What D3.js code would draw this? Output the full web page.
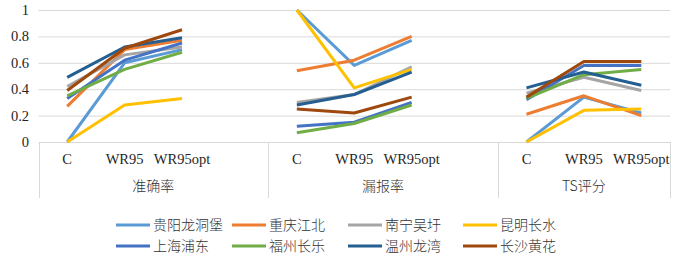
<!DOCTYPE html>
<html>
<head>
<meta charset="utf-8">
<script src="https://cdn.jsdelivr.net/npm/d3@7"></script>
<style>
  body { margin: 0; background: #fff; }
  svg { display: block; }
  .num { font-family: "Liberation Serif", "Times New Roman", serif; font-size: 14.5px; fill: #262626; }
  .cjk { font-family: "Noto Sans CJK SC", sans-serif; font-size: 14px; font-weight: 300; fill: #333; }
</style>
</head>
<body>
<svg id="chart" width="674" height="259"></svg>
<script>
/* ======================= DATA ======================= */
const groups = ["准确率", "漏报率", "TS评分"];
const categories = ["C", "WR95", "WR95opt"];
const yTicks = [0, 0.2, 0.4, 0.6, 0.8, 1];

const seriesNames = ["贵阳龙洞堡", "重庆江北", "南宁吴圩", "昆明长水",
                     "上海浦东", "福州长乐", "温州龙湾", "长沙黄花"];
const seriesColors = ["#5B9BD5", "#ED7D31", "#A5A5A5", "#FFC000",
                      "#4472C4", "#70AD47", "#255E91", "#9E480E"];

// values in order: 准确率 C/WR95/WR95opt, 漏报率 ..., TS评分 ...
const guiyang   = [0.00, 0.60, 0.70, 1.00, 0.58, 0.77, 0.00, 0.34, 0.22];
const chongqing = [0.27, 0.70, 0.77, 0.54, 0.62, 0.80, 0.21, 0.35, 0.20];
const nanning   = [0.42, 0.66, 0.72, 0.30, 0.36, 0.57, 0.37, 0.49, 0.39];
const kunming   = [0.00, 0.28, 0.33, 1.00, 0.41, 0.55, 0.00, 0.24, 0.25];
const shanghai  = [0.33, 0.62, 0.75, 0.12, 0.15, 0.30, 0.32, 0.58, 0.58];
const fuzhou    = [0.35, 0.55, 0.68, 0.07, 0.14, 0.28, 0.33, 0.51, 0.55];
const wenzhou   = [0.49, 0.72, 0.79, 0.28, 0.36, 0.53, 0.41, 0.53, 0.43];
const changsha  = [0.39, 0.71, 0.85, 0.25, 0.22, 0.34, 0.34, 0.61, 0.61];

const seriesValues = [guiyang, chongqing, nanning, kunming,
                      shanghai, fuzhou, wenzhou, changsha];

/* ====================== LAYOUT ====================== */
const svg = d3.select("#chart");
const plotLeft = 38.5, plotRight = 670, plotTop = 10, plotBottom = 142;
const axisBottom = 198;
const gridColor = "#d9d9d9";

// slot keys: each group gets its categories, followed by an empty slot (not after the last)
let slots = [];
groups.forEach((g, gi) => {
    categories.forEach(c => slots.push(g + "|" + c));
    if (gi < groups.length - 1) slots.push("gap" + gi);
});

const x = d3.scaleBand().domain(slots).range([plotLeft, plotRight]).padding(0);
const y = d3.scaleLinear().domain([0, 1]).range([plotBottom, plotTop]);

/* ===================== GRID / AXES ===================== */
svg.append("g")
   .selectAll("line")
   .data(yTicks)
   .join("line")
   .attr("x1", plotLeft).attr("x2", plotRight)
   .attr("y1", d => y(d) + 0.5).attr("y2", d => y(d) + 0.5)
   .attr("stroke", gridColor).attr("stroke-width", 1);

svg.append("g")
   .selectAll("text")
   .data(yTicks)
   .join("text")
   .attr("class", "num")
   .attr("x", 29)
   .attr("y", d => y(d))
   .attr("dy", "0.35em")
   .attr("text-anchor", "end")
   .text(d => d);

// group separators on the category axis
let sepX = groups.map(g => x(g + "|" + categories[0]));
sepX.push(plotRight);
svg.append("g")
   .selectAll("line")
   .data(sepX)
   .join("line")
   .attr("x1", d => Math.round(d) + 0.5).attr("x2", d => Math.round(d) + 0.5)
   .attr("y1", plotBottom).attr("y2", axisBottom)
   .attr("stroke", gridColor).attr("stroke-width", 1);

// category labels
let catLabels = [];
groups.forEach(g => categories.forEach(c => catLabels.push({ key: g + "|" + c, text: c })));
svg.append("g")
   .selectAll("text")
   .data(catLabels)
   .join("text")
   .attr("class", "num")
   .attr("x", d => x(d.key) + x.bandwidth() / 2)
   .attr("y", 164)
   .attr("text-anchor", "middle")
   .text(d => d.text);

// group labels
svg.append("g")
   .selectAll("text")
   .data(groups)
   .join("text")
   .attr("class", "cjk")
   .attr("x", (g, i) => (sepX[i] + sepX[i + 1]) / 2)
   .attr("y", 191)
   .attr("text-anchor", "middle")
   .text(g => g);

/* ======================= LINES ======================= */
const line = d3.line()
               .defined(d => d.v !== null)
               .x(d => x(d.key) + x.bandwidth() / 2)
               .y(d => y(d.v));

function seriesPoints(vals) {
    return slots.map(s => {
        if (s.startsWith("gap")) return { key: s, v: null };
        let [g, c] = s.split("|");
        let idx = groups.indexOf(g) * categories.length + categories.indexOf(c);
        return { key: s, v: vals[idx] };
    });
}

svg.append("g")
   .selectAll("path")
   .data(seriesValues)
   .join("path")
   .attr("d", d => line(seriesPoints(d)))
   .attr("fill", "none")
   .attr("stroke", (d, i) => seriesColors[i])
   .attr("stroke-width", 3)
   .attr("stroke-linejoin", "round");

/* ====================== LEGEND ====================== */
const legendX = [116, 232, 348, 463];
const legendY = [225, 246];

let legend = svg.append("g")
                .selectAll("g")
                .data(seriesNames)
                .join("g")
                .attr("transform", (d, i) => `translate(${legendX[i % 4]},${legendY[Math.floor(i / 4)]})`);

legend.append("line")
      .attr("x1", 0).attr("x2", 34)
      .attr("y1", 0).attr("y2", 0)
      .attr("stroke", (d, i) => seriesColors[i])
      .attr("stroke-width", 3);

legend.append("text")
      .attr("class", "cjk")
      .attr("x", 37)
      .attr("y", 0)
      .attr("dy", "0.35em")
      .text(d => d);
</script>
</body>
</html>
